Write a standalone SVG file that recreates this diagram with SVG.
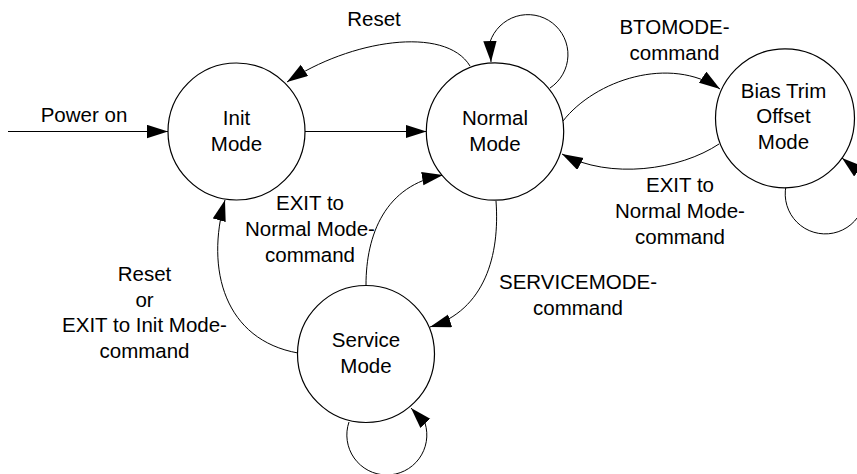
<svg xmlns="http://www.w3.org/2000/svg" width="857" height="474" viewBox="0 0 857 474">
<defs>
<marker id="arr" markerUnits="userSpaceOnUse" markerWidth="22" markerHeight="14" refX="21" refY="6.7" orient="auto">
<path d="M0,0 L21,6.7 L0,13.4 z" fill="#000"/>
</marker>
<style>
.st{fill:#fff;stroke:#000;stroke-width:1.2}
.ed{fill:none;stroke:#000;stroke-width:1;marker-end:url(#arr)}
text{font-family:"Liberation Sans",Arial,sans-serif;font-size:20.5px;fill:#000;text-anchor:middle}
</style>
</defs>
<rect width="857" height="474" fill="#fff"/>
<g id="connectors">
<path class="ed" d="M8,131.5 L168,131.5"/>
<path class="ed" d="M305,131.5 L426.5,131.5"/>
<path class="ed" d="M470,66 C445,25 350,40 287,82"/>
<path class="ed" d="M550,88 A40,40 0 1 0 490,42 L491,62"/>
<path class="ed" d="M563,121 C595,80 670,55 720,89"/>
<path class="ed" d="M719,144 C680,170 610,180 562,154"/>
<path class="ed" d="M786,186 A40,40 0 1 0 858,171 L842,158"/>
<path class="ed" d="M496,201 C500,255 485,310 430,327"/>
<path class="ed" d="M366,285 C366,235 385,185 443,175"/>
<path class="ed" d="M298,353 C225,340 205,270 225,200"/>
<path class="ed" d="M349,422 A40,40 0 1 0 425,423 L411,408"/>
</g>
<g id="labels">
<text x="374" y="26">Reset</text>
<text x="84" y="122">Power on</text>
<text x="674.5" y="34.3">BTOMODE-</text>
<text x="674.5" y="60">command</text>
<text x="680" y="192.3">EXIT to</text>
<text x="680" y="218.3">Normal Mode-</text>
<text x="680" y="243.5">command</text>
<text x="310" y="210">EXIT to</text>
<text x="310" y="236">Normal Mode-</text>
<text x="310" y="261.5">command</text>
<text x="144.5" y="280.7">Reset</text>
<text x="144.5" y="306.5">or</text>
<text x="144.5" y="332">EXIT to Init Mode-</text>
<text x="144.5" y="357.5">command</text>
<text x="578" y="289.3">SERVICEMODE-</text>
<text x="578" y="314.5">command</text>
</g>
<g id="init">
<circle class="st" cx="236.5" cy="131.5" r="68.5"/>
<text x="236.5" y="125">Init</text>
<text x="236.5" y="150.7">Mode</text>
</g>
<g id="normal">
<circle class="st" cx="495" cy="131.5" r="68.7"/>
<text x="495" y="125">Normal</text>
<text x="495" y="150.7">Mode</text>
</g>
<g id="biastrim">
<circle class="st" cx="785" cy="118.3" r="69.5"/>
<text x="783.5" y="97.7">Bias Trim</text>
<text x="783.5" y="123.3">Offset</text>
<text x="783.5" y="149">Mode</text>
</g>
<g id="service">
<circle class="st" cx="366" cy="354" r="68.5"/>
<text x="366" y="347.3">Service</text>
<text x="366" y="373.3">Mode</text>
</g>
</svg>
